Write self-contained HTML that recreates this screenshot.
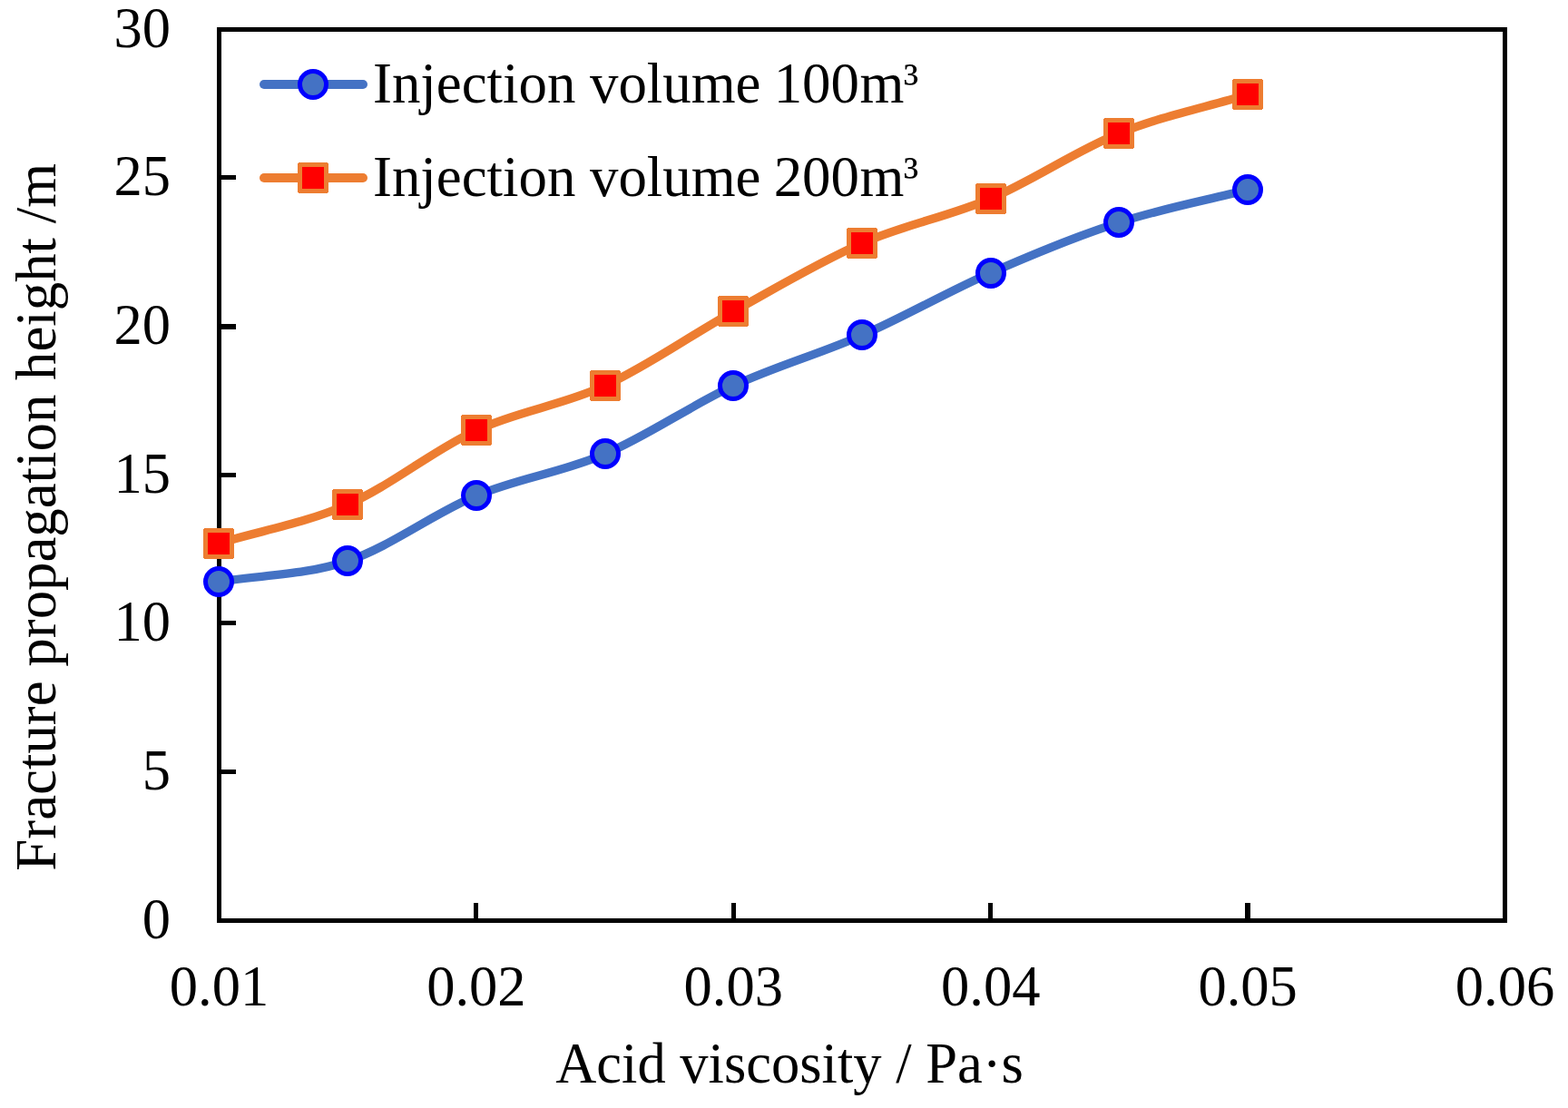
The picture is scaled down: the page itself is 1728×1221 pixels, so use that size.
<!DOCTYPE html>
<html lang="en"><head><meta charset="utf-8"><title>Fracture propagation height vs acid viscosity</title>
<style>
html,body{margin:0;padding:0;background:#fff;}
body{width:1728px;height:1221px;overflow:hidden;}
svg{display:block;}
text{font-family:"Liberation Serif",serif;font-size:64px;fill:#000;}
</style></head><body>
<svg width="1728" height="1221" viewBox="0 0 1728 1221" role="img" aria-label="Fracture propagation height versus acid viscosity for injection volumes of 100 and 200 cubic metres">
<rect x="0" y="0" width="1728" height="1221" fill="#fff"/>
<g fill="#000" shape-rendering="crispEdges">
<rect x="239" y="30" width="1422" height="5"/>
<rect x="239" y="1012" width="1422" height="5"/>
<rect x="239" y="30" width="5" height="987"/>
<rect x="1656" y="30" width="5" height="987"/>
<rect x="244" y="848" width="16" height="5"/>
<rect x="244" y="684" width="16" height="5"/>
<rect x="244" y="521" width="16" height="5"/>
<rect x="244" y="357" width="16" height="6"/>
<rect x="244" y="193" width="16" height="5"/>
<rect x="522" y="995" width="5" height="17"/>
<rect x="806" y="995" width="5" height="17"/>
<rect x="1089" y="995" width="5" height="17"/>
<rect x="1372" y="995" width="6" height="17"/>
</g>
<g text-anchor="end">
<text transform="translate(188 51.5) scale(0.977 1)">30</text>
<text transform="translate(188 215.2) scale(0.977 1)">25</text>
<text transform="translate(188 378.8) scale(0.977 1)">20</text>
<text transform="translate(188 542.5) scale(0.977 1)">15</text>
<text transform="translate(188 706.2) scale(0.977 1)">10</text>
<text transform="translate(188 869.8) scale(0.977 1)">5</text>
<text transform="translate(188 1033.5) scale(0.977 1)">0</text>
</g>
<g text-anchor="middle">
<text transform="translate(241.5 1107.5) scale(0.977 1)">0.01</text>
<text transform="translate(524.9 1107.5) scale(0.977 1)">0.02</text>
<text transform="translate(808.3 1107.5) scale(0.977 1)">0.03</text>
<text transform="translate(1091.7 1107.5) scale(0.977 1)">0.04</text>
<text transform="translate(1375.1 1107.5) scale(0.977 1)">0.05</text>
<text transform="translate(1658.5 1107.5) scale(0.977 1)">0.06</text>
</g>
<text transform="translate(870 1193.1) scale(0.977 1)" text-anchor="middle">Acid viscosity / Pa·s</text>
<text transform="translate(61 569.8) rotate(-90) scale(0.9816 1)" text-anchor="middle">Fracture propagation height /m</text>
<g fill="none" stroke-width="9.4" stroke-linecap="round" stroke-linejoin="round">
<path stroke="#4472C4" d="M241.5 641.1 C288.7 633.5 336.0 634.0 383.2 618.2 C430.4 602.4 477.7 565.8 524.9 546.2 C572.1 526.6 619.4 520.6 666.6 500.4 C713.8 480.2 761.1 446.9 808.3 425.1 C855.5 403.3 902.8 390.2 950 369.5 C997.2 348.8 1044.5 321.4 1091.7 300.7 C1138.9 280.0 1186.2 260.4 1233.4 245.1 C1280.6 229.8 1327.9 221.1 1375.1 209.1"/>
<path stroke="#ED7D31" d="M241.5 598.6 C288.7 584.4 336.0 576.7 383.2 556 C430.4 535.3 477.7 496.0 524.9 474.2 C572.1 452.4 619.4 446.9 666.6 425.1 C713.8 403.3 761.1 369.5 808.3 343.3 C855.5 317.1 902.8 288.7 950 268 C997.2 247.3 1044.5 239.1 1091.7 218.9 C1138.9 198.7 1186.2 166.0 1233.4 146.9 C1280.6 127.8 1327.9 118.5 1375.1 104.3"/>
<path stroke="#4472C4" stroke-width="10" d="M291 93H400"/>
<path stroke="#ED7D31" stroke-width="10" d="M291 196H400"/>
</g>
<g fill="#4472C4" stroke="#0000FF" stroke-width="5">
<circle cx="241" cy="641" r="14.5"/>
<circle cx="383" cy="618" r="14.5"/>
<circle cx="525" cy="546" r="14.5"/>
<circle cx="667" cy="500" r="14.5"/>
<circle cx="808" cy="425" r="14.5"/>
<circle cx="950" cy="369" r="14.5"/>
<circle cx="1092" cy="301" r="14.5"/>
<circle cx="1233" cy="245" r="14.5"/>
<circle cx="1375" cy="209" r="14.5"/>
<circle cx="345" cy="93" r="14.5"/>
</g>
<g fill="#FF0000" stroke="#ED7D31" stroke-width="5" stroke-linejoin="round" shape-rendering="crispEdges">
<rect x="226.5" y="584.5" width="29" height="29"/>
<rect x="368.5" y="541.5" width="29" height="29"/>
<rect x="510.5" y="459.5" width="29" height="29"/>
<rect x="652.5" y="410.5" width="29" height="29"/>
<rect x="793.5" y="328.5" width="29" height="29"/>
<rect x="935.5" y="253.5" width="29" height="29"/>
<rect x="1077.5" y="204.5" width="29" height="29"/>
<rect x="1218.5" y="132.5" width="29" height="29"/>
<rect x="1360.5" y="89.5" width="29" height="29"/>
<rect x="330.5" y="181.5" width="29" height="29"/>
</g>
<text transform="translate(411 112.8) scale(0.982 1)">Injection volume <tspan dx="-1.5">100</tspan><tspan dx="0.5">m</tspan><tspan dx="-0.5" dy="-5" font-size="56px">³</tspan></text>
<text transform="translate(411 215.8) scale(0.982 1)">Injection volume <tspan dx="-1.5">200</tspan><tspan dx="0.5">m</tspan><tspan dx="-0.5" dy="-5" font-size="56px">³</tspan></text>
</svg>
</body></html>
